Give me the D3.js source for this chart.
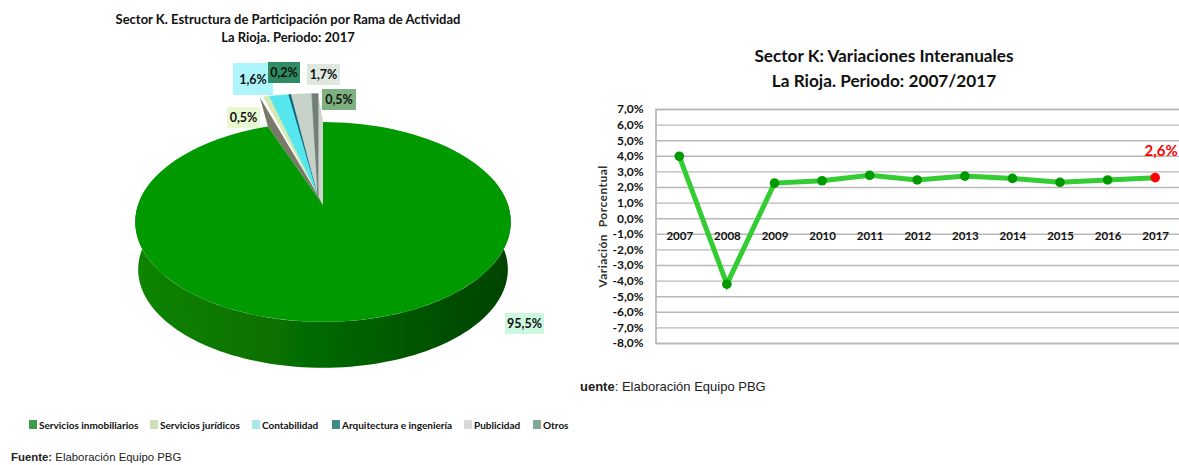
<!DOCTYPE html>
<html>
<head>
<meta charset="utf-8">
<script src="https://cdn.jsdelivr.net/npm/d3@7"></script>
<style>
  html, body { margin: 0; padding: 0; background: #fff; }
  svg { display: block; }
  text { font-family: Lato, "Open Sans", sans-serif; font-weight: 700; fill: #111; }
  .fuente { font-family: "Liberation Sans", Arial, sans-serif; font-weight: 400; fill: #222; }
  .fuente tspan.b { font-weight: 700; }
</style>
</head>
<body>
<div id="chart"></div>
<script>
const ramas = ['Servicios inmobiliarios', 'Servicios jurídicos', 'Contabilidad', 'Arquitectura e ingeniería', 'Publicidad', 'Otros'];
const participacion = [95.5, 0.5, 1.6, 0.2, 1.7, 0.5];
const participacionLabels = ['95,5%', '0,5%', '1,6%', '0,2%', '1,7%', '0,5%'];

const years = ['2007', '2008', '2009', '2010', '2011', '2012', '2013', '2014', '2015', '2016', '2017'];
const variacion = [3.97, -4.23, 2.25, 2.4, 2.75, 2.45, 2.7, 2.55, 2.3, 2.45, 2.6];
const yTicks = [7, 6, 5, 4, 3, 2, 1, 0, -1, -2, -3, -4, -5, -6, -7, -8];

const sliceColors = ['#009a00', '#d6e8b4', '#55e6ee', '#0f5f78', '#c6d2c8', '#6f7f78'];
const legendColors = ['#3c9a50', '#cfe0b8', '#a8e8e8', '#3e8a88', '#d8d8d8', '#7fa898'];
const legendX = [29, 150, 252, 332, 464, 533];
// label boxes around the pie: x, y, w, h, background
const labelBoxes = [
  [505, 313, 39, 21, '#ccf8e0'],
  [227, 107, 33, 21, '#e8f8d0'],
  [233, 63, 40, 32, '#adf5fb'],
  [268, 62, 32, 21, '#2e8b62'],
  [307, 64, 33, 21, '#dfe8df'],
  [322, 89, 34, 21, '#7fb080']
];

const svg = d3.select('#chart').append('svg').attr('width', 1179).attr('height', 465);

const defs = svg.append('defs');
const grad = defs.append('linearGradient').attr('id', 'wall')
  .attr('gradientUnits', 'userSpaceOnUse').attr('x1', 135).attr('x2', 511).attr('y1', 0).attr('y2', 0);
grad.append('stop').attr('offset', '0%').attr('stop-color', '#0c8400');
grad.append('stop').attr('offset', '45%').attr('stop-color', '#066c00');
grad.append('stop').attr('offset', '100%').attr('stop-color', '#004200');
defs.append('filter').attr('id', 'soft').append('feGaussianBlur').attr('stdDeviation', 0.7);

// ---- pie, left ----
svg.append('text').attr('x', 288).attr('y', 24).attr('text-anchor', 'middle').style('font-size', '13px')
  .text('Sector K. Estructura de Participación por Rama de Actividad');
svg.append('text').attr('x', 288).attr('y', 42).attr('text-anchor', 'middle').style('font-size', '13px')
  .text('La Rioja. Periodo: 2017');

const apex = [323, 205];
const sliceApex = [318, 195];
const rx = 185, ry = 97, persp = -0.17, depth = 48, explode = 1.27;

// circle seen in perspective: the pie centre sits above the middle of the ellipse
function project(a, r) {
  const x = Math.sin(a) * r, y = -Math.cos(a) * r, w = 1 + persp * y;
  return [rx * x / w, ry * y / w];
}
const at = (o, a, r, dy = 0) => { const p = project(a, r); return [o[0] + p[0], o[1] + p[1] + dy]; };
const steps = (a0, a1) => d3.range(0, 121).map(i => a0 + (a1 - a0) * i / 120);
const path = d3.line();

const arcs = d3.pie().sort(null)(participacion);
const greenEnd = arcs[0].endAngle - 0.07;

const pieG = svg.append('g').attr('filter', 'url(#soft)');

// side wall
const wallAngles = steps(Math.PI * 0.4, Math.PI * 1.6);
pieG.append('path')
  .attr('d', path(wallAngles.map(a => at(apex, a, 1, 0)).concat(wallAngles.slice().reverse().map(a => at(apex, a, 0.985, depth)))) + 'Z')
  .attr('fill', 'url(#wall)');

// cut faces of the big slice
const sliceStart = arcs[1].startAngle;
pieG.append('path')
  .attr('d', path([apex, at(apex, greenEnd, 1), at(sliceApex, sliceStart - 0.02, explode), sliceApex]) + 'Z')
  .attr('fill', '#7a7868');
pieG.append('path')
  .attr('d', path([apex, at(apex, 0, 1), at(sliceApex, 0, explode), sliceApex]) + 'Z')
  .attr('fill', '#ccd4cc');
pieG.append('path')
  .attr('d', path([apex].concat(steps(arcs[0].startAngle, greenEnd).map(a => at(apex, a, 1)))) + 'Z')
  .attr('fill', sliceColors[0]);

// small slices pulled out of the pie
pieG.selectAll('path.small').data(arcs.slice(1)).enter().append('path')
  .attr('class', 'small')
  .attr('d', d => path([sliceApex].concat(steps(d.startAngle, d.endAngle).map(a => at(sliceApex, a, explode)))) + 'Z')
  .attr('fill', d => sliceColors[d.index])
  .attr('stroke', d => sliceColors[d.index])
  .attr('stroke-width', 0.8);

const labels = svg.append('g').selectAll('g').data(participacionLabels).enter().append('g');
labels.append('rect')
  .attr('x', (d, i) => labelBoxes[i][0]).attr('y', (d, i) => labelBoxes[i][1])
  .attr('width', (d, i) => labelBoxes[i][2]).attr('height', (d, i) => labelBoxes[i][3])
  .attr('fill', (d, i) => labelBoxes[i][4]);
labels.append('text')
  .attr('x', (d, i) => labelBoxes[i][0] + labelBoxes[i][2] / 2)
  .attr('y', (d, i) => labelBoxes[i][1] + labelBoxes[i][3] / 2 + 4.5)
  .attr('text-anchor', 'middle').style('font-size', '12.5px')
  .text(d => d);

const legend = svg.append('g').selectAll('g').data(ramas).enter().append('g')
  .attr('transform', (d, i) => `translate(${legendX[i]},425)`);
legend.append('rect').attr('x', 0).attr('y', -5).attr('width', 8).attr('height', 9)
  .attr('fill', (d, i) => legendColors[i]).attr('filter', 'url(#soft)');
legend.append('text').attr('x', 10).attr('y', 4).style('font-size', '10px').text(d => d);

const fuente = svg.append('text').attr('class', 'fuente').attr('x', 11).attr('y', 461).style('font-size', '11.4px');
fuente.append('tspan').attr('class', 'b').text('Fuente:');
fuente.append('tspan').text(' Elaboración Equipo PBG');

// ---- line, right ----
svg.append('text').attr('x', 884).attr('y', 62).attr('text-anchor', 'middle').style('font-size', '17.2px')
  .text('Sector K: Variaciones Interanuales');
svg.append('text').attr('x', 884).attr('y', 87).attr('text-anchor', 'middle').style('font-size', '17.2px')
  .text('La Rioja. Periodo: 2007/2017');

const plot = { left: 655.5, right: 1179, top: 109, bottom: 343 };
const x = d3.scalePoint().domain(years).range([plot.left, plot.right]).padding(0.5);
const y = d3.scaleLinear().domain([-8, 7]).range([plot.bottom, plot.top]);

const yAxis = d3.axisLeft(y).tickValues(yTicks)
  .tickFormat(d => d.toFixed(1).replace('.', ',') + '%')
  .tickSize(-(plot.right - plot.left)).tickPadding(12);
const gy = svg.append('g').attr('transform', `translate(${plot.left},0)`).call(yAxis);
gy.select('.domain').attr('stroke', '#b0b0b0').attr('stroke-width', 1.5);
gy.selectAll('.tick line').attr('stroke', '#b8b8b8').attr('stroke-width', 1.4);
gy.selectAll('.tick text').style('font-size', '12px').attr('fill', '#111').attr('font-family', null);

const xAxis = d3.axisBottom(x).tickSize(0).tickPadding(14);
const gx = svg.append('g').attr('transform', `translate(0,${y(0)})`).call(xAxis);
gx.select('.domain').remove();
gx.selectAll('.tick text').style('font-size', '11.5px').attr('fill', '#111').attr('font-family', null);

svg.append('text').attr('transform', 'translate(607,226.5) rotate(-90)').attr('text-anchor', 'middle')
  .style('font-size', '12px').style('letter-spacing', '0.45px').style('fill', '#333').attr('xml:space', 'preserve')
  .text('Variación  Porcentual');

svg.append('path').datum(variacion)
  .attr('fill', 'none').attr('stroke', '#33cc33').attr('stroke-width', 5)
  .attr('d', d3.line().x((d, i) => x(years[i])).y(d => y(d)));

svg.selectAll('circle.pt').data(variacion).enter().append('circle')
  .attr('class', 'pt')
  .attr('cx', (d, i) => x(years[i])).attr('cy', d => y(d)).attr('r', 4.8)
  .attr('fill', (d, i) => i === variacion.length - 1 ? '#ff0000' : '#009a00');

svg.append('text').attr('x', x('2017') + 6).attr('y', y(variacion[10]) - 22).attr('text-anchor', 'middle')
  .style('font-size', '15px').style('fill', '#ff0000').text('2,6%');

const fuente2 = svg.append('text').attr('class', 'fuente').attr('x', 580).attr('y', 391).style('font-size', '13px');
fuente2.append('tspan').attr('class', 'b').text('uente');
fuente2.append('tspan').text(': Elaboración Equipo PBG');
</script>
</body>
</html>
